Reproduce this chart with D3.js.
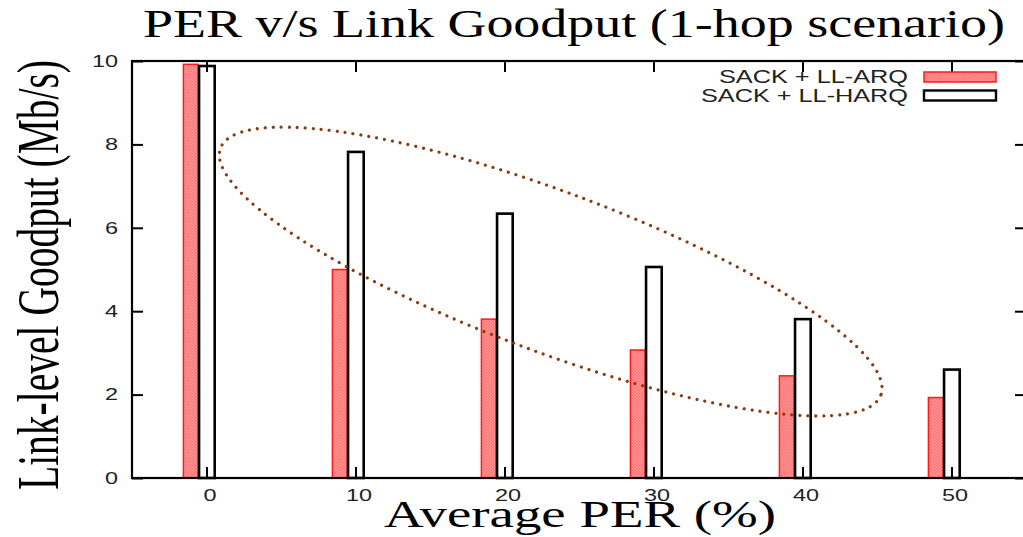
<!DOCTYPE html>
<html>
<head>
<meta charset="utf-8">
<script src="https://cdn.jsdelivr.net/npm/d3@7"></script>
<style>
  body { margin: 0; background: #fff; }
  #chart svg { display: block; }
</style>
</head>
<body>
<div id="chart"></div>
<script>
// PER vs link goodput, 1-hop scenario

const perValues = [0, 10, 20, 30, 40, 50];
const llArqGoodput = [9.92, 5.0, 3.81, 3.07, 2.45, 1.93];
const llHarqGoodput = [9.88, 7.82, 6.34, 5.06, 3.81, 2.6];
const yTicks = [0, 2, 4, 6, 8, 10];
const seriesNames = ["SACK + LL-ARQ", "SACK + LL-HARQ"];

function drawChart() {
    const W = 1023, H = 537;
    const plot = {left: 132, right: 1026, top: 61, bottom: 478};

    const svg = d3.select("#chart")
        .append("svg")
        .attr("width", W)
        .attr("height", H);

    const x = d3.scaleLinear().domain([-5, 55]).range([plot.left, plot.right]);
    const y = d3.scaleLinear().domain([0, 10]).range([plot.bottom, plot.top]);

    // pink crosshatch fill used by gnuplot
    const defs = svg.append("defs");
    const pat = defs.append("pattern")
        .attr("id", "hatch")
        .attr("width", 3).attr("height", 3)
        .attr("patternUnits", "userSpaceOnUse");
    pat.append("rect").attr("width", 3).attr("height", 3).attr("fill", "#ff9a9a");
    pat.append("rect").attr("width", 1.5).attr("height", 1.5).attr("fill", "#ff7070");
    pat.append("rect").attr("x", 1.5).attr("y", 1.5).attr("width", 1.5).attr("height", 1.5).attr("fill", "#ff7070");

    const rows = perValues.map((p, i) => ({per: p, arq: llArqGoodput[i], harq: llHarqGoodput[i]}));

    // bars: ARQ sits one unit left of the tick, HARQ centred on it
    svg.selectAll(".bar-arq")
        .data(rows)
        .enter()
        .append("rect")
        .attr("class", "bar-arq")
        .attr("x", d => x(d.per - 1.55))
        .attr("y", d => y(d.arq))
        .attr("width", x(1) - x(0))
        .attr("height", d => y(0) - y(d.arq))
        .attr("fill", "url(#hatch)")
        .attr("stroke", "#ff1a1a")
        .attr("stroke-width", 1.5);

    svg.selectAll(".bar-harq")
        .data(rows)
        .enter()
        .append("rect")
        .attr("class", "bar-harq")
        .attr("x", d => x(d.per - 0.5))
        .attr("y", d => y(d.harq))
        .attr("width", x(1.05) - x(0))
        .attr("height", d => y(0) - y(d.harq))
        .attr("fill", "#fff")
        .attr("stroke", "#000")
        .attr("stroke-width", 2.6);

    // axes, ticks pointing inward on all four sides
    const tickFont = "'Liberation Sans', Arial, sans-serif";

    const yAxis = svg.append("g")
        .attr("transform", `translate(${plot.left},0)`)
        .call(d3.axisLeft(y).tickValues(yTicks).tickSize(-11).tickPadding(0));
    yAxis.selectAll("text")
        .attr("x", -9.8)
        .attr("transform", "scale(1.42,1)");

    svg.append("g")
        .attr("transform", `translate(${plot.right},0)`)
        .call(d3.axisRight(y).tickValues(yTicks).tickSize(-11).tickFormat(""));

    const xAxis = svg.append("g")
        .attr("transform", `translate(0,${plot.bottom})`)
        .call(d3.axisBottom(x).tickValues(perValues).tickSize(-11).tickPadding(11));
    xAxis.selectAll("text")
        .attr("transform", "translate(3,0) scale(1.42,1)");

    svg.append("g")
        .attr("transform", `translate(0,${plot.top})`)
        .call(d3.axisTop(x).tickValues(perValues).tickSize(-11).tickFormat(""));

    svg.selectAll(".domain").remove();
    svg.selectAll(".tick line").attr("stroke", "#000").attr("stroke-width", 2);
    svg.selectAll(".tick text")
        .style("font-family", tickFont)
        .style("font-size", "16.5px")
        .attr("fill", "#222");

    // frame
    svg.append("rect")
        .attr("x", plot.left)
        .attr("y", plot.top)
        .attr("width", plot.right - plot.left)
        .attr("height", plot.bottom - plot.top)
        .attr("fill", "none")
        .attr("stroke", "#000")
        .attr("stroke-width", 2.2);

    // dotted annotation ellipse round the falling trend
    svg.append("ellipse")
        .attr("transform", `translate(${x(23.1)},${y(4.95)}) rotate(20.5)`)
        .attr("rx", 352.5)
        .attr("ry", 80)
        .attr("fill", "none")
        .attr("stroke", "#8b3a12")
        .attr("stroke-width", 3.2)
        .attr("stroke-linecap", "round")
        .attr("stroke-dasharray", "0 8");

    // legend
    const legend = svg.append("g").attr("class", "legend");
    const legendRows = [
        {name: seriesNames[0], base: 83, len: 189, fill: "url(#hatch)", stroke: "#ff1a1a", sw: 1.5},
        {name: seriesNames[1], base: 101.5, len: 207, fill: "#fff", stroke: "#000", sw: 2.4}
    ];
    legendRows.forEach(r => {
        legend.append("text")
            .attr("x", 908)
            .attr("y", r.base)
            .attr("text-anchor", "end")
            .attr("textLength", r.len)
            .attr("lengthAdjust", "spacingAndGlyphs")
            .style("font-family", tickFont)
            .style("font-size", "17.5px")
            .attr("fill", "#222")
            .text(r.name);
        legend.append("rect")
            .attr("x", 924)
            .attr("y", r.base - 11)
            .attr("width", 72)
            .attr("height", 10)
            .attr("fill", r.fill)
            .attr("stroke", r.stroke)
            .attr("stroke-width", r.sw);
    });

    const serif = "'Liberation Serif', 'Times New Roman', serif";

    // title
    svg.append("text")
        .attr("x", 143)
        .attr("y", 37)
        .attr("textLength", 862)
        .attr("lengthAdjust", "spacingAndGlyphs")
        .style("font-family", serif)
        .style("font-size", "40px")
        .text("PER v/s Link Goodput (1-hop scenario)");

    // x axis label
    svg.append("text")
        .attr("x", 384)
        .attr("y", 527)
        .attr("textLength", 392)
        .attr("lengthAdjust", "spacingAndGlyphs")
        .style("font-family", serif)
        .style("font-size", "38px")
        .text("Average PER (%)");

    // y axis label
    svg.append("text")
        .attr("transform", "translate(38,275) scale(1.5,1) rotate(-90)")
        .attr("text-anchor", "middle")
        .attr("dominant-baseline", "central")
        .style("font-family", serif)
        .style("font-size", "39.5px")
        .text("Link-level Goodput (Mb/s)");
}

document.addEventListener("DOMContentLoaded", drawChart);
</script>
</body>
</html>
